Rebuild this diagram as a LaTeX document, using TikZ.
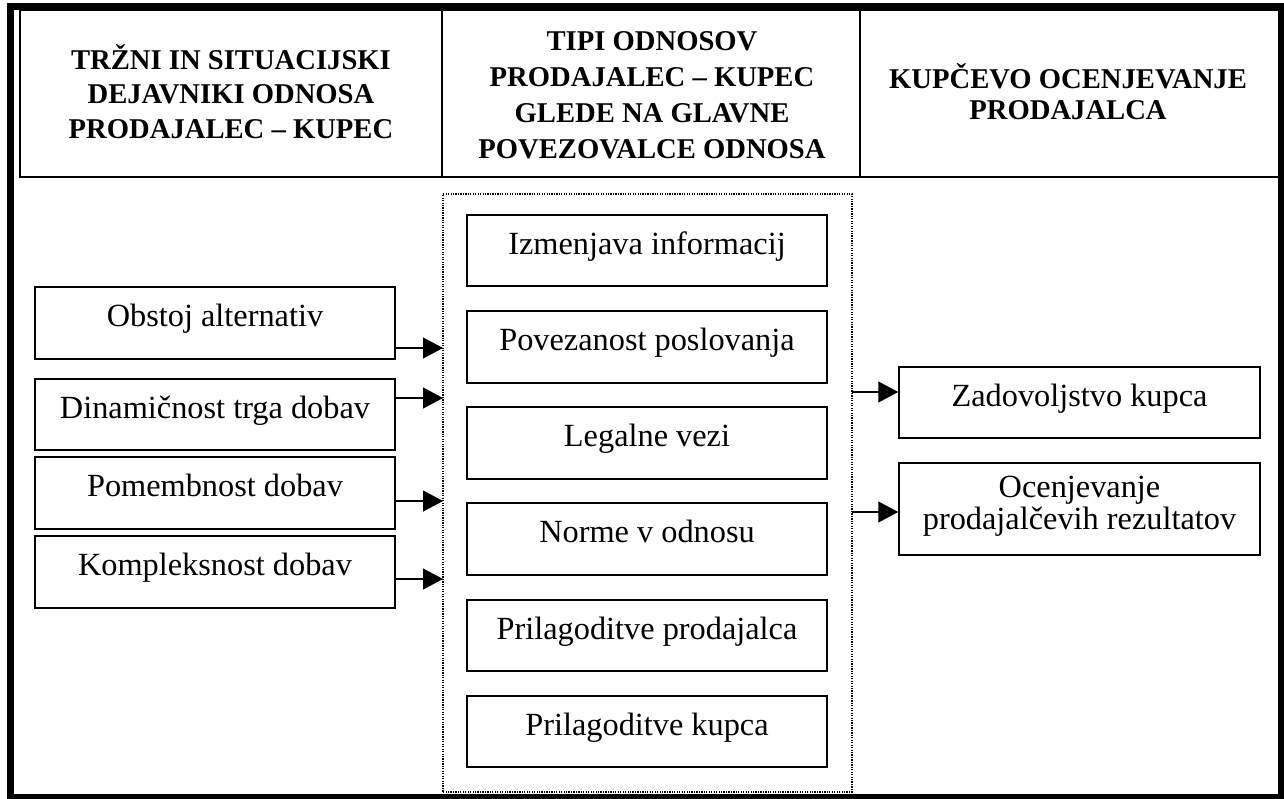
\documentclass[tikz,border=0pt]{standalone}
\usepackage{fontspec}
\setmainfont{Liberation Serif}
\usetikzlibrary{arrows.meta}
\begin{document}
\begin{tikzpicture}[x=0.02cm,y=-0.02cm,
  box/.style={draw, line width=0.9pt, minimum width=7.2cm, minimum height=1.43cm,
    inner sep=0pt, font=\fontsize{18.4}{18.1}\selectfont, text height=10pt, text depth=6pt},
  head/.style={anchor=base, inner sep=0pt},
  arr/.style={line width=0.7pt, -{Triangle[length=0.4cm,width=0.42cm]}},
  dotbox/.style={draw, line width=0.8pt, dash pattern=on 0.7pt off 0.7pt, inner sep=0pt}
]
\useasboundingbox (0,0) rectangle (1284,798);

% outer frame and header row
\draw[line width=4.2pt] (10.5,6.5) rectangle (1282,798);
\draw[line width=1pt] (20,10) rectangle (1279,177);
\draw[line width=1pt] (442,10) -- (442,177);
\draw[line width=1pt] (860,10) -- (860,177);

% header texts
\node[head, font=\fontsize{16.3}{19.85}\selectfont\bfseries] (h1) at (231,69)
  {\begin{tabular}[t]{@{}c@{}}TRŽNI IN SITUACIJSKI\\DEJAVNIKI ODNOSA\\PRODAJALEC – KUPEC\end{tabular}};
\node[head, font=\fontsize{16.3}{20.6}\selectfont\bfseries] (h2) at (652,50)
  {\begin{tabular}[t]{@{}c@{}}TIPI ODNOSOV\\PRODAJALEC – KUPEC\\GLEDE NA GLAVNE\\POVEZOVALCE ODNOSA\end{tabular}};
\node[head, font=\fontsize{16.3}{17.9}\selectfont\bfseries] (h3) at (1068,88)
  {\begin{tabular}[t]{@{}c@{}}KUPČEVO OCENJEVANJE\\PRODAJALCA\end{tabular}};

% group of relationship connectors
\node[dotbox, minimum width=8.18cm, minimum height=11.96cm] (grp) at (647.5,493) {};

% market and situational factors
\node[box] (obstoj) at (215,323) {Obstoj alternativ};
\node[box] (dinam)  at (215,414.5) {Dinamičnost trga dobav};
\node[box] (pomemb) at (215,493) {Pomembnost dobav};
\node[box] (kompl)  at (215,572) {Kompleksnost dobav};

% relationship connectors
\node[box] (izm)   at (647,250.5) {Izmenjava informacij};
\node[box] (povez) at (647,347) {Povezanost poslovanja};
\node[box] (legal) at (647,443) {Legalne vezi};
\node[box] (norme) at (647,539) {Norme v odnosu};
\node[box] (pprod) at (647,635.5) {Prilagoditve prodajalca};
\node[box] (pkup)  at (647,731.5) {Prilagoditve kupca};

% buyer's evaluation
\node[box, minimum width=7.22cm] (zad) at (1079.5,402.5) {Zadovoljstvo kupca};
\node[box, minimum width=7.22cm, minimum height=1.84cm, text depth=23.6pt] (ocen) at (1079.5,509)
  {\begin{tabular}[t]{@{}c@{}}Ocenjevanje\\prodajalčevih rezultatov\end{tabular}};

% arrow end points on the dotted group
\coordinate (a1) at (443,348);
\coordinate (a2) at (443,398);
\coordinate (a3) at (443,501);
\coordinate (a4) at (443,579);
\coordinate (b1) at (852,392);
\coordinate (b2) at (852,512);

\draw[arr] (obstoj.east |- a1) -- (a1);
\draw[arr] (dinam.east |- a2) -- (a2);
\draw[arr] (pomemb.east |- a3) -- (a3);
\draw[arr] (kompl.east |- a4) -- (a4);
\draw[arr] (b1) -- (zad.west |- b1);
\draw[arr] (b2) -- (ocen.west |- b2);
\end{tikzpicture}
\end{document}
